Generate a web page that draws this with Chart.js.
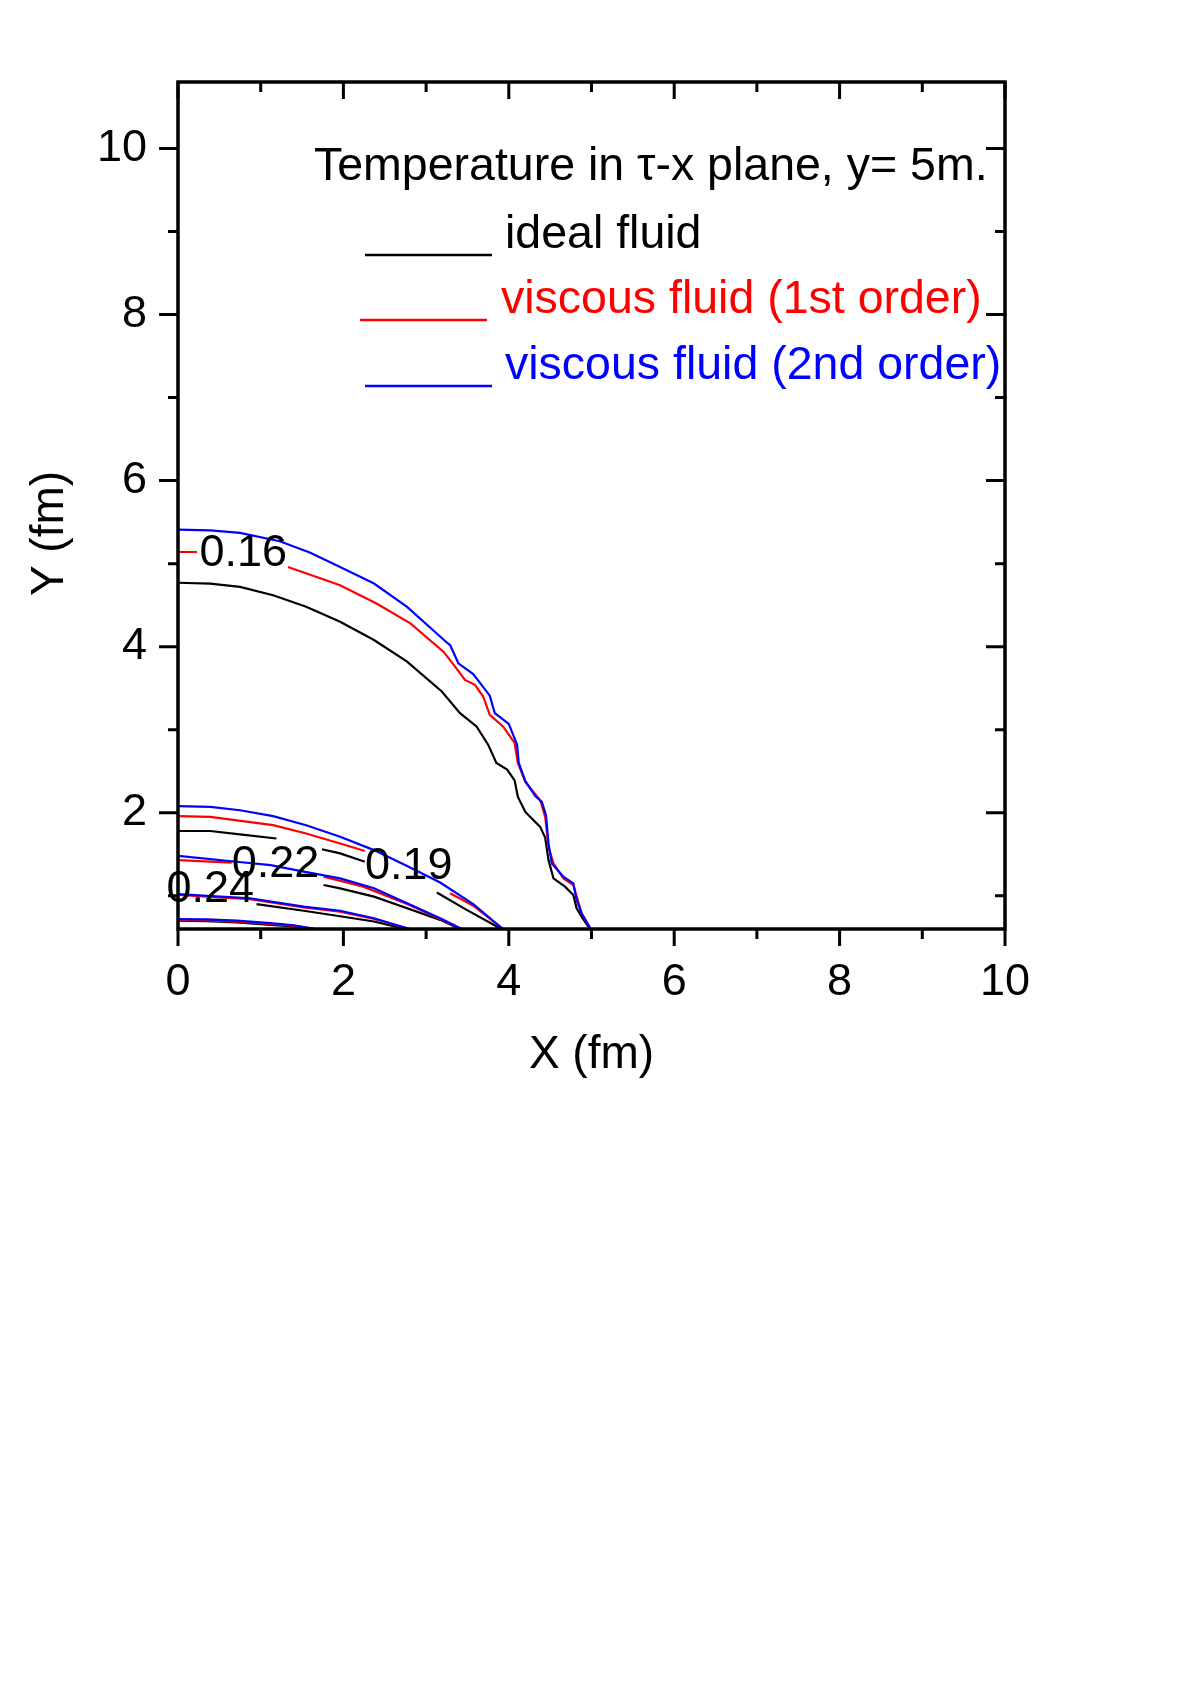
<!DOCTYPE html>
<html>
<head>
<meta charset="utf-8">
<script src="https://cdn.jsdelivr.net/npm/chart.js@4.4.1/dist/chart.umd.min.js"></script>
<style>
  html, body { margin: 0; padding: 0; background: #fff; }
</style>
</head>
<body>
<canvas id="temps" width="1183" height="1694"></canvas>
<script>
// axis ticks
const xMajor = [0, 2, 4, 6, 8, 10];
const xMinor = [1, 3, 5, 7, 9];
const yMajor = [2, 4, 6, 8, 10];
const yMinor = [1, 3, 5, 7, 9];

// T = 0.16 contour (null = gap under a label)
const ideal016X = [0, 0.39, 0.75, 1.15, 1.55, 1.96, 2.37, 2.77, 3.19, 3.41, 3.61, 3.75, 3.85, 3.98, 4.07, 4.11, 4.20, 4.38, 4.44, 4.48, 4.54, 4.68, 4.78, 4.82, 4.88, 4.98];
const ideal016Y = [4.77, 4.76, 4.72, 4.62, 4.48, 4.30, 4.08, 3.82, 3.46, 3.20, 3.04, 2.82, 2.60, 2.52, 2.39, 2.19, 2.01, 1.83, 1.70, 1.43, 1.21, 1.11, 1.01, 0.85, 0.75, 0.60];
const first016X = [0, 0.23, null, 1.33, 1.96, 2.40, 2.81, 3.21, 3.35, 3.47, 3.59, 3.69, 3.77, 3.93, 4.07, 4.11, 4.20, 4.38, 4.44, 4.48, 4.54, 4.66, 4.78, 4.84, 4.88, 4.99];
const first016Y = [5.14, 5.14, null, 4.96, 4.74, 4.52, 4.28, 3.94, 3.76, 3.60, 3.54, 3.40, 3.18, 3.04, 2.84, 2.60, 2.37, 2.15, 1.95, 1.59, 1.39, 1.21, 1.13, 0.93, 0.79, 0.60];
const second016X = [0, 0.39, 0.75, 1.23, 1.60, 1.96, 2.37, 2.77, 3.25, 3.29, 3.39, 3.57, 3.77, 3.83, 4.00, 4.10, 4.12, 4.20, 4.32, 4.40, 4.45, 4.48, 4.52, 4.66, 4.78, 4.82, 4.88, 4.99];
const second016Y = [5.41, 5.40, 5.37, 5.27, 5.13, 4.96, 4.76, 4.48, 4.05, 4.02, 3.80, 3.67, 3.41, 3.20, 3.07, 2.82, 2.60, 2.38, 2.20, 2.13, 1.97, 1.63, 1.39, 1.23, 1.15, 0.95, 0.79, 0.60];

// T = 0.19
const ideal019X = [0, 0.39, 0.75, 1.19, null, 1.74, 1.96, 2.26, null, 3.13, 3.49, 3.91];
const ideal019Y = [1.78, 1.78, 1.74, 1.69, null, 1.56, 1.51, 1.41, null, 1.04, 0.83, 0.60];
const first019X = [0, 0.39, 1.15, 1.55, 1.96, 2.26, null, 3.29, 3.57, 3.93];
const first019Y = [1.96, 1.95, 1.85, 1.75, 1.63, 1.54, null, 1.03, 0.88, 0.60];
const second019X = [0, 0.39, 0.75, 1.15, 1.55, 1.96, 2.37, 2.77, 3.17, 3.57, 3.93];
const second019Y = [2.08, 2.07, 2.03, 1.96, 1.85, 1.71, 1.55, 1.36, 1.16, 0.90, 0.60];

// T = 0.22
const ideal022X = [1.76, 1.96, 2.37, 2.77, 3.17, 3.41];
const ideal022Y = [1.13, 1.09, 0.99, 0.85, 0.71, 0.60];
const first022X = [0, 0.65, null, 1.76, 2.24, 2.77, 3.17, 3.43];
const first022Y = [1.43, 1.40, null, 1.23, 1.11, 0.90, 0.72, 0.60];
const second022X = [0, 0.71, 1.12, 1.52, 1.96, 2.37, 2.77, 3.17, 3.43];
const second022Y = [1.48, 1.41, 1.37, 1.29, 1.21, 1.09, 0.91, 0.73, 0.60];

// T = 0.24
const ideal024X = [0.95, 1.52, 1.92, 2.37, 2.75];
const ideal024Y = [0.90, 0.82, 0.76, 0.69, 0.60];
const first024X = [0, 0.87, 1.52, 1.96, 2.37, 2.80];
const first024Y = [1.01, 0.96, 0.86, 0.81, 0.72, 0.60];
const second024X = [0, 0.87, 1.52, 1.96, 2.37, 2.80];
const second024Y = [1.02, 0.97, 0.87, 0.82, 0.73, 0.60];

// innermost, unlabelled
const ideal026X = [0, 0.35, 0.71, 1.12, 1.40, 1.60];
const ideal026Y = [0.70, 0.695, 0.68, 0.65, 0.63, 0.60];
const first026X = [0, 0.35, 0.71, 1.12, 1.40, 1.66];
const first026Y = [0.71, 0.705, 0.69, 0.66, 0.64, 0.60];
const second026X = [0, 0.35, 0.71, 1.12, 1.40, 1.66];
const second026Y = [0.72, 0.715, 0.70, 0.67, 0.645, 0.60];

// contour level labels
const levelText = ['0.16', '0.19', '0.22', '0.24'];
const levelX = [0.79, 2.79, 1.18, 0.39];
const levelY = [5.12, 1.35, 1.37, 1.07];

const legendTitle = 'Temperature in \u03C4-x plane, y= 5m.';
const legendNames = ['ideal fluid', 'viscous fluid (1st order)', 'viscous fluid (2nd order)'];
const legendColors = ['#000000', '#ff0000', '#0000ff'];

const FONT = "'Liberation Sans', Arial, sans-serif";

const pts = (xs, ys) => xs.map((v, i) => ({x: v, y: ys[i]}));
const contour = (xs, ys, color) => ({
  data: pts(xs, ys),
  showLine: true,
  borderColor: color,
  borderWidth: 2.2,
  pointRadius: 0,
  spanGaps: false
});

// first dataset is drawn on top
const datasets = [
  contour(second016X, second016Y, '#0000ff'),
  contour(second019X, second019Y, '#0000ff'),
  contour(second022X, second022Y, '#0000ff'),
  contour(second024X, second024Y, '#0000ff'),
  contour(second026X, second026Y, '#0000ff'),
  contour(first016X, first016Y, '#ff0000'),
  contour(first019X, first019Y, '#ff0000'),
  contour(first022X, first022Y, '#ff0000'),
  contour(first024X, first024Y, '#ff0000'),
  contour(first026X, first026Y, '#ff0000'),
  contour(ideal016X, ideal016Y, '#000000'),
  contour(ideal019X, ideal019Y, '#000000'),
  contour(ideal022X, ideal022Y, '#000000'),
  contour(ideal024X, ideal024Y, '#000000'),
  contour(ideal026X, ideal026Y, '#000000')
];

const levelLabels = {
  id: 'levelLabels',
  afterDatasetsDraw(chart) {
    const {ctx, scales: {x, y}} = chart;
    ctx.save();
    ctx.fillStyle = '#000';
    ctx.font = '45px ' + FONT;
    ctx.textAlign = 'center';
    ctx.textBaseline = 'middle';
    levelText.forEach((t, i) => {
      ctx.fillText(t, x.getPixelForValue(levelX[i]), y.getPixelForValue(levelY[i]));
    });
    ctx.restore();
  }
};

const frame = {
  id: 'frame',
  afterDraw(chart) {
    const {ctx, chartArea: a, scales: {x, y}} = chart;
    ctx.save();
    ctx.strokeStyle = '#000';
    ctx.lineWidth = 3;
    ctx.beginPath();
    const xt = (v, len) => {
      const p = x.getPixelForValue(v);
      ctx.moveTo(p, a.bottom); ctx.lineTo(p, a.bottom + len);
      ctx.moveTo(p, a.top); ctx.lineTo(p, a.top + len);
    };
    const yt = (v, len) => {
      const p = y.getPixelForValue(v);
      ctx.moveTo(a.left, p); ctx.lineTo(a.left - len, p);
      ctx.moveTo(a.right, p); ctx.lineTo(a.right - len, p);
    };
    xMajor.forEach(v => xt(v, 17));
    xMinor.forEach(v => xt(v, 10));
    yMajor.forEach(v => yt(v, 19));
    yMinor.forEach(v => yt(v, 10));
    ctx.stroke();
    ctx.lineWidth = 3.5;
    ctx.strokeRect(a.left, a.top, a.right - a.left, a.bottom - a.top);

    // y axis title
    ctx.fillStyle = '#000';
    ctx.font = '46px ' + FONT;
    ctx.save();
    ctx.translate(a.left - 128, (a.top + a.bottom) / 2 + 28);
    ctx.rotate(-Math.PI / 2);
    ctx.textAlign = 'center';
    ctx.textBaseline = 'middle';
    ctx.fillText('Y (fm)', 0, 0);
    ctx.restore();

    // legend
    ctx.font = '46.5px ' + FONT;
    ctx.textAlign = 'left';
    ctx.textBaseline = 'alphabetic';
    ctx.fillText(legendTitle, a.left + 136, a.top + 98);
    const textX = [327, 323, 327];
    const lineX = [187, 182, 187];
    const base = [166, 231, 297];
    legendNames.forEach((name, i) => {
      ctx.fillStyle = legendColors[i];
      ctx.strokeStyle = legendColors[i];
      ctx.fillText(name, a.left + textX[i], a.top + base[i]);
      ctx.lineWidth = 2.5;
      ctx.beginPath();
      ctx.moveTo(a.left + lineX[i], a.top + base[i] + 7);
      ctx.lineTo(a.left + lineX[i] + 127, a.top + base[i] + 7);
      ctx.stroke();
    });
    ctx.restore();
  }
};

new Chart(document.getElementById('temps'), {
  type: 'scatter',
  data: { datasets },
  options: {
    responsive: false,
    devicePixelRatio: 1,
    animation: false,
    layout: { padding: { left: 0, right: 178, top: 82, bottom: 594 } },
    plugins: { legend: { display: false }, tooltip: { enabled: false } },
    scales: {
      x: {
        type: 'linear',
        min: 0,
        max: 10,
        afterBuildTicks: s => { s.ticks = xMajor.map(v => ({ value: v })); },
        afterFit: s => { s.height = 171; },
        grid: { display: false, drawTicks: false },
        border: { display: false },
        ticks: { color: '#000', font: { family: FONT, size: 45 }, padding: 27, autoSkip: false, maxRotation: 0 },
        title: { display: true, text: 'X (fm)', color: '#000', font: { family: FONT, size: 46 }, padding: { top: 0, bottom: 17 } }
      },
      y: {
        type: 'linear',
        min: 0.6,
        max: 10.8,
        afterBuildTicks: s => { s.ticks = yMajor.map(v => ({ value: v })); },
        afterFit: s => { s.width = 178; },
        grid: { display: false, drawTicks: false },
        border: { display: false },
        ticks: { color: '#000', font: { family: FONT, size: 45 }, padding: 31, autoSkip: false }
      }
    }
  },
  plugins: [levelLabels, frame]
});
</script>
</body>
</html>
